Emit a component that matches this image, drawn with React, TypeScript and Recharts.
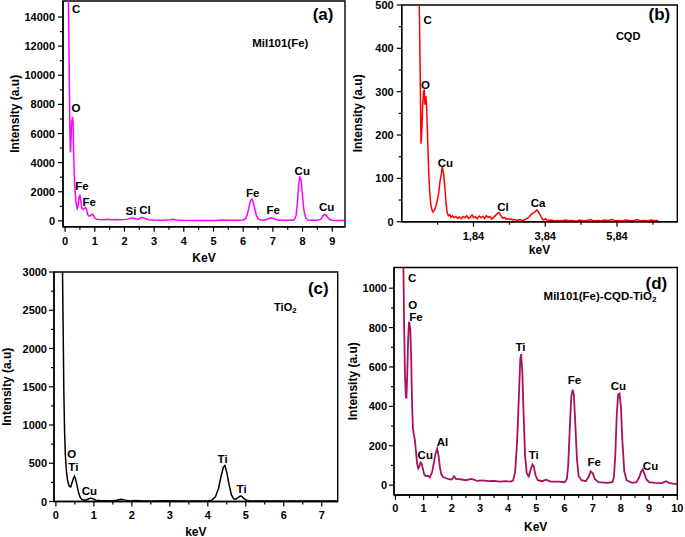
import React from 'react';
import { LineChart, Line, XAxis, YAxis, ReferenceArea, ReferenceDot } from 'recharts';

const FONT = 'Arial, "Liberation Sans", Helvetica, sans-serif';

// ---------- Panel (a): Mil101(Fe) ----------
const aKev = [0.11, 0.14, 0.16, 0.18, 0.20, 0.22, 0.25, 0.27, 0.29, 0.32, 0.35, 0.38, 0.41, 0.44, 0.47, 0.50, 0.53, 0.57, 0.61, 0.65, 0.69, 0.72, 0.76, 0.80, 0.84, 0.88, 0.92, 0.96, 1.00, 1.05, 1.15, 1.3, 1.45, 1.55, 1.7, 1.85, 2.0, 2.1, 2.2, 2.27, 2.35, 2.45, 2.52, 2.6, 2.68, 2.8, 3.0, 3.3, 3.55, 3.65, 3.75, 4.0, 4.5, 5.0, 5.3, 5.5, 5.8, 6.0, 6.08, 6.14, 6.2, 6.25, 6.29, 6.33, 6.38, 6.44, 6.5, 6.58, 6.7, 6.85, 6.93, 7.0, 7.08, 7.2, 7.4, 7.6, 7.72, 7.78, 7.83, 7.87, 7.91, 7.95, 7.99, 8.04, 8.1, 8.18, 8.3, 8.5, 8.62, 8.68, 8.73, 8.78, 8.84, 8.92, 9.0, 9.2, 9.43];
const aCounts = [15600, 10500, 6500, 4700, 5500, 6800, 7150, 6700, 4500, 2600, 1700, 1100, 850, 1050, 1600, 1800, 1350, 850, 780, 880, 920, 800, 450, 330, 340, 420, 460, 380, 200, 120, 90, 80, 110, 80, 100, 70, 90, 120, 170, 210, 140, 90, 180, 250, 170, 80, 60, 50, 70, 110, 60, 40, 30, 30, 60, 40, 40, 60, 150, 450, 1000, 1400, 1500, 1350, 900, 400, 150, 60, 50, 150, 210, 190, 110, 50, 40, 40, 80, 350, 1300, 2500, 3050, 2800, 1900, 800, 220, 60, 40, 50, 120, 330, 440, 420, 250, 90, 40, 30, 30];
const aXTicks = [0, 0.5, 1, 1.5, 2, 2.5, 3, 3.5, 4, 4.5, 5, 5.5, 6, 6.5, 7, 7.5, 8, 8.5, 9];
const aXMajor = [0, 1, 2, 3, 4, 5, 6, 7, 8, 9];
const aYTicks = [0, 1000, 2000, 3000, 4000, 5000, 6000, 7000, 8000, 9000, 10000, 11000, 12000, 13000, 14000];
const aYMajor = [0, 2000, 4000, 6000, 8000, 10000, 12000, 14000];
const aLabels = [
  { x: 0.37, y: 14540, t: 'C' },
  { x: 0.37, y: 7780, t: 'O' },
  { x: 0.57, y: 2390, t: 'Fe' },
  { x: 0.81, y: 1310, t: 'Fe' },
  { x: 2.22, y: 670, t: 'Si' },
  { x: 2.69, y: 740, t: 'Cl' },
  { x: 6.32, y: 1930, t: 'Fe' },
  { x: 7.01, y: 740, t: 'Fe' },
  { x: 7.99, y: 3450, t: 'Cu' },
  { x: 8.81, y: 970, t: 'Cu' },
];
const aNotes = [
  { x: 7.25, y: 12200, t: 'Mil101(Fe)', size: 11.5 },
  { x: 8.69, y: 14140, t: '(a)', size: 17 },
];

// ---------- Panel (b): CQD ----------
const bKev = [0.31, 0.33, 0.35, 0.37, 0.38, 0.40, 0.42, 0.45, 0.47, 0.49, 0.51, 0.53, 0.56, 0.59, 0.62, 0.65, 0.68, 0.71, 0.74, 0.77, 0.80, 0.84, 0.88, 0.91, 0.94, 0.97, 0.99, 1.01, 1.03, 1.05, 1.08, 1.11, 1.14, 1.18, 1.22, 1.26, 1.30, 1.35, 1.40, 1.45, 1.50, 1.55, 1.60, 1.65, 1.70, 1.75, 1.80, 1.85, 1.90, 1.95, 2.00, 2.05, 2.10, 2.15, 2.20, 2.25, 2.30, 2.35, 2.40, 2.45, 2.50, 2.55, 2.60, 2.65, 2.70, 2.75, 2.80, 2.85, 2.90, 2.95, 3.00, 3.05, 3.10, 3.15, 3.20, 3.25, 3.30, 3.35, 3.40, 3.45, 3.50, 3.55, 3.60, 3.64, 3.68, 3.72, 3.76, 3.80, 3.85, 3.90, 4.0, 4.1, 4.2, 4.3, 4.4, 4.5, 4.6, 4.7, 4.8, 4.9, 5.0, 5.1, 5.2, 5.3, 5.4, 5.5, 5.6, 5.7, 5.8, 5.9, 6.0, 6.1, 6.2, 6.3, 6.4, 6.5, 6.6, 6.7, 6.8, 6.9, 6.99];
const bCounts = [560, 500, 380, 230, 180, 210, 260, 300, 305, 270, 290, 275, 200, 120, 70, 40, 28, 22, 25, 30, 38, 52, 72, 95, 108, 128, 118, 110, 90, 70, 40, 20, 14, 16, 10, 14, 9, 12, 8, 11, 7, 12, 9, 14, 8, 10, 16, 9, 11, 7, 13, 9, 12, 8, 14, 10, 12, 6, 10, 14, 18, 21, 15, 8, 10, 6, 7, 5, 6, 4, 5, 3, 4, 5, 2, 4, 6, 8, 12, 17, 20, 22, 27, 24, 18, 12, 6, 4, 7, 3, 4, 2, 3, 2, 4, 2, 3, 1, 4, 2, 3, 5, 2, 3, 2, 4, 3, 5, 2, 3, 2, 4, 2, 3, 5, 2, 3, 2, 4, 2, 3];
const bXTicks = [0.84, 1.84, 2.84, 3.84, 4.84, 5.84, 6.84];
const bXMajor = [1.84, 3.84, 5.84];
const bYTicks = [0, 50, 100, 150, 200, 250, 300, 350, 400, 450, 500];
const bYMajor = [0, 100, 200, 300, 400, 500];
const bLabels = [
  { x: 0.56, y: 465, t: 'C' },
  { x: 0.50, y: 315, t: 'O' },
  { x: 1.06, y: 136, t: 'Cu' },
  { x: 2.66, y: 35, t: 'Cl' },
  { x: 3.64, y: 44, t: 'Ca' },
];
const bNotes = [
  { x: 6.15, y: 428, t: 'CQD', size: 11 },
  { x: 7.02, y: 477, t: '(b)', size: 17 },
];

// ---------- Panel (c): TiO2 ----------
const cKev = [0.17, 0.19, 0.21, 0.23, 0.25, 0.28, 0.31, 0.35, 0.39, 0.42, 0.46, 0.49, 0.52, 0.56, 0.60, 0.64, 0.68, 0.74, 0.80, 0.86, 0.92, 0.98, 1.05, 1.15, 1.3, 1.45, 1.6, 1.72, 1.82, 1.95, 2.1, 2.3, 2.6, 2.9, 3.2, 3.5, 3.8, 4.0, 4.1, 4.2, 4.28, 4.35, 4.41, 4.45, 4.50, 4.56, 4.62, 4.68, 4.74, 4.80, 4.86, 4.90, 4.95, 5.02, 5.1, 5.4, 5.8, 6.2, 6.6, 7.0, 7.4];
const cCounts = [3200, 2300, 1400, 900, 600, 380, 270, 200, 190, 240, 300, 330, 290, 200, 110, 55, 28, 18, 20, 35, 45, 35, 18, 12, 10, 8, 15, 28, 18, 8, 12, 7, 8, 9, 6, 8, 7, 10, 15, 60, 170, 330, 450, 470, 380, 220, 90, 35, 30, 55, 70, 65, 40, 15, 8, 6, 5, 6, 5, 6, 5];
const cXTicks = [0, 0.5, 1, 1.5, 2, 2.5, 3, 3.5, 4, 4.5, 5, 5.5, 6, 6.5, 7];
const cXMajor = [0, 1, 2, 3, 4, 5, 6, 7];
const cYTicks = [0, 250, 500, 750, 1000, 1250, 1500, 1750, 2000, 2250, 2500, 2750, 3000];
const cYMajor = [0, 500, 1000, 1500, 2000, 2500, 3000];
const cLabels = [
  { x: 0.42, y: 616, t: 'O' },
  { x: 0.46, y: 447, t: 'Ti' },
  { x: 0.88, y: 137, t: 'Cu' },
  { x: 4.39, y: 555, t: 'Ti' },
  { x: 4.89, y: 159, t: 'Ti' },
];
const cNotes = [
  { x: 6.04, y: 2544, t: 'TiO', sub: '2', size: 11 },
  { x: 6.91, y: 2784, t: '(c)', size: 17 },
];

// ---------- Panel (d): Mil101(Fe)-CQD-TiO2 ----------
const dKev = [0.28, 0.31, 0.34, 0.37, 0.39, 0.42, 0.45, 0.48, 0.50, 0.53, 0.56, 0.59, 0.62, 0.65, 0.69, 0.73, 0.77, 0.81, 0.85, 0.89, 0.93, 0.97, 1.02, 1.08, 1.15, 1.22, 1.3, 1.36, 1.42, 1.48, 1.53, 1.58, 1.63, 1.7, 1.8, 1.9, 2.0, 2.08, 2.15, 2.3, 2.5, 2.7, 2.9, 3.1, 3.3, 3.5, 3.7, 3.9, 4.1, 4.18, 4.25, 4.32, 4.38, 4.43, 4.46, 4.50, 4.55, 4.60, 4.66, 4.73, 4.80, 4.86, 4.91, 4.97, 5.05, 5.2, 5.35, 5.5, 5.8, 6.0, 6.08, 6.13, 6.19, 6.24, 6.29, 6.33, 6.38, 6.44, 6.5, 6.6, 6.75, 6.85, 6.93, 7.0, 7.08, 7.2, 7.5, 7.7, 7.75, 7.8, 7.85, 7.9, 7.95, 8.0, 8.05, 8.12, 8.2, 8.4, 8.55, 8.65, 8.72, 8.77, 8.83, 8.9, 9.0, 9.2, 9.45, 9.6, 9.7, 9.85, 10.0];
const dCounts = [1150, 800, 560, 450, 440, 560, 730, 830, 820, 790, 640, 420, 290, 260, 230, 170, 110, 85, 95, 115, 110, 85, 55, 45, 48, 40, 65, 110, 160, 185, 150, 90, 55, 40, 35, 30, 28, 45, 32, 30, 25, 32, 22, 24, 20, 22, 18, 20, 18, 25, 70, 230, 450, 640, 665, 580, 350, 150, 60, 45, 80, 105, 95, 50, 25, 20, 28, 18, 18, 15, 30, 100, 300, 450, 485, 460, 320, 130, 45, 25, 20, 40, 70, 60, 30, 15, 12, 15, 40, 150, 350, 460, 465, 400, 230, 70, 25, 12, 15, 40, 70, 80, 60, 30, 15, 12, 10, 20, 12, 8, 5];
const dXTicks = [0, 0.5, 1, 1.5, 2, 2.5, 3, 3.5, 4, 4.5, 5, 5.5, 6, 6.5, 7, 7.5, 8, 8.5, 9, 9.5, 10];
const dXMajor = [0, 1, 2, 3, 4, 5, 6, 7, 8, 9, 10];
const dYTicks = [0, 100, 200, 300, 400, 500, 600, 700, 800, 900, 1000];
const dYMajor = [0, 200, 400, 600, 800, 1000];
const dLabels = [
  { x: 0.59, y: 1054, t: 'C' },
  { x: 0.61, y: 917, t: 'O' },
  { x: 0.73, y: 855, t: 'Fe' },
  { x: 4.44, y: 701, t: 'Ti' },
  { x: 6.35, y: 532, t: 'Fe' },
  { x: 7.91, y: 502, t: 'Cu' },
  { x: 1.67, y: 218, t: 'Al' },
  { x: 1.06, y: 155, t: 'Cu' },
  { x: 4.91, y: 152, t: 'Ti' },
  { x: 7.05, y: 117, t: 'Fe' },
  { x: 9.05, y: 96, t: 'Cu' },
];
const dNotes = [
  { x: 7.26, y: 958, t: 'Mil101(Fe)-CQD-TiO', sub: '2', size: 11.5 },
  { x: 9.26, y: 1025, t: '(d)', size: 17 },
];

const comma = (v: number) => String(v).replace('.', ',');
const plain = (v: number) => String(v);

function makeYTick(majors: number[], gap: number, fmt: (v: number) => string) {
  return (p: any) => {
    const v = p.payload.value;
    const major = majors.includes(v);
    return (
      <g>
        <line x1={p.x} x2={p.x - (major ? 5 : 3)} y1={p.y} y2={p.y} stroke="#000" strokeWidth={1.2} />
        {major && (
          <text x={p.x - gap} y={p.y} textAnchor="end" dominantBaseline="central" fontFamily={FONT} fontWeight="bold" fontSize={11} fill="#000">
            {fmt(v)}
          </text>
        )}
      </g>
    );
  };
}

function makeXTick(majors: number[], gap: number, fmt: (v: number) => string) {
  return (p: any) => {
    const v = p.payload.value;
    const major = majors.includes(v);
    return (
      <g>
        <line x1={p.x} x2={p.x} y1={p.y} y2={p.y + (major ? 5 : 3)} stroke="#000" strokeWidth={1.2} />
        {major && (
          <text x={p.x} y={p.y + gap} textAnchor="middle" dominantBaseline="central" fontFamily={FONT} fontWeight="bold" fontSize={11} fill="#000">
            {fmt(v)}
          </text>
        )}
      </g>
    );
  };
}

type Note = { x: number; y: number; t: string; sub?: string; size?: number };

function Panel(p: any) {
  const data = p.xs.map((k: number, i: number) => ({ k, v: p.ys[i] }));
  const plotL = p.margin.left + p.yWidth;
  const plotR = p.width - p.margin.right;
  const plotT = p.margin.top;
  const plotB = p.height - p.margin.bottom - p.xHeight;
  const all: Note[] = [...p.labels.map((l: Note) => ({ ...l, size: 11.5 })), ...p.notes];
  return (
    <div style={{ position: 'absolute', left: p.left, top: p.top, width: p.width, height: p.height }}>
      <LineChart width={p.width} height={p.height} data={data} margin={p.margin}>
        <XAxis
          dataKey="k"
          type="number"
          domain={p.xDomain}
          allowDataOverflow
          ticks={p.xTicks}
          interval={0}
          tickSize={0}
          tickMargin={0}
          height={p.xHeight}
          tickLine={false}
          axisLine={{ stroke: '#000', strokeWidth: 1.4 }}
          tick={makeXTick(p.xMajor, p.xGap, p.xFmt)}
          label={() => (
            <text x={(plotL + plotR) / 2} y={plotB + p.xTitleDy} textAnchor="middle" dominantBaseline="central" fontFamily={FONT} fontWeight="bold" fontSize={12} fill="#000">
              {p.xTitle}
            </text>
          )}
        />
        <YAxis
          type="number"
          domain={p.yDomain}
          allowDataOverflow
          ticks={p.yTicks}
          interval={0}
          tickSize={0}
          tickMargin={0}
          width={p.yWidth}
          tickLine={false}
          axisLine={{ stroke: '#000', strokeWidth: 1.4 }}
          tick={makeYTick(p.yMajor, p.yGap, plain)}
          label={() => (
            <text transform={`translate(${p.yTitleX},${(plotT + plotB) / 2}) rotate(-90)`} textAnchor="middle" dominantBaseline="central" fontFamily={FONT} fontWeight="bold" fontSize={12} fill="#000">
              Intensity (a.u)
            </text>
          )}
        />
        <ReferenceArea x1={p.xDomain[0]} x2={p.xDomain[1]} y1={p.yDomain[0]} y2={p.yDomain[1]} fill="none" fillOpacity={0} stroke="#000" strokeWidth={1.4} ifOverflow="visible" />
        <Line type="linear" dataKey="v" stroke={p.color} strokeWidth={p.sw} dot={false} activeDot={false} isAnimationActive={false} />
        {all.map((l, i) => (
          <ReferenceDot
            key={i}
            x={l.x}
            y={l.y}
            r={0}
            ifOverflow="visible"
            shape={(sp: any) => (
              <text x={sp.cx} y={sp.cy} textAnchor="middle" dominantBaseline="central" fontFamily={FONT} fontWeight="bold" fontSize={l.size} fill="#000">
                {l.t}
                {l.sub && (
                  <tspan fontSize={(l.size || 11) * 0.7} dy={3}>
                    {l.sub}
                  </tspan>
                )}
              </text>
            )}
          />
        ))}
      </LineChart>
    </div>
  );
}

export default function App() {
  return (
    <div style={{ position: 'absolute', left: 0, top: 0, width: 685, height: 537, background: '#fff', overflow: 'hidden' }}>
      <Panel
        left={0} top={0} width={350} height={265}
        margin={{ top: 1, right: 5, bottom: 8.3, left: 3 }} yWidth={60} xHeight={30}
        xs={aKev} ys={aCounts} color="#ff00ff" sw={1.5}
        xDomain={[-0.07, 9.43]} yDomain={[-400, 15100]}
        xTicks={aXTicks} xMajor={aXMajor} xFmt={plain} xGap={14}
        yTicks={aYTicks} yMajor={aYMajor} yGap={8}
        xTitle="KeV" xTitleDy={31} yTitleX={15}
        labels={aLabels} notes={aNotes}
      />
      <Panel
        left={340} top={0} width={345} height={265}
        margin={{ top: 5, right: 7.7, bottom: 13.3, left: 6.7 }} yWidth={55} xHeight={30}
        xs={bKev} ys={bCounts} color="#ff0000" sw={1.5}
        xDomain={[-0.16, 7.52]} yDomain={[0, 500]}
        xTicks={bXTicks} xMajor={bXMajor} xFmt={comma} xGap={14}
        yTicks={bYTicks} yMajor={bYMajor} yGap={8}
        xTitle="keV" xTitleDy={28.5} yTitleX={18}
        labels={bLabels} notes={bNotes}
      />
      <Panel
        left={0} top={262} width={345} height={275}
        margin={{ top: 10, right: 7.3, bottom: 10.5, left: 4 }} yWidth={50} xHeight={25}
        xs={cKev} ys={cCounts} color="#000000" sw={1.5}
        xDomain={[-0.05, 7.42]} yDomain={[0, 3000]}
        xTicks={cXTicks} xMajor={cXMajor} xFmt={plain} xGap={13}
        yTicks={cYTicks} yMajor={cYMajor} yGap={7}
        xTitle="keV" xTitleDy={30} yTitleX={7}
        labels={cLabels} notes={cNotes}
      />
      <Panel
        left={340} top={262} width={345} height={275}
        margin={{ top: 5.5, right: 7.7, bottom: 17, left: 4 }} yWidth={50} xHeight={25}
        xs={dKev} ys={dCounts} color="#a8125c" sw={1.8}
        xDomain={[-0.05, 10]} yDomain={[-50, 1105]}
        xTicks={dXTicks} xMajor={dXMajor} xFmt={plain} xGap={13}
        yTicks={dYTicks} yMajor={dYMajor} yGap={7}
        xTitle="KeV" xTitleDy={32} yTitleX={13}
        labels={dLabels} notes={dNotes}
      />
    </div>
  );
}
